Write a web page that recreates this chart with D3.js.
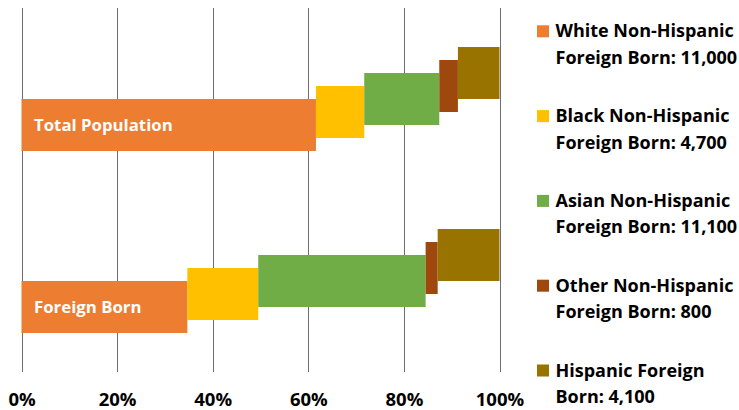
<!DOCTYPE html>
<html><head><meta charset="utf-8">
<script src="https://cdn.jsdelivr.net/npm/d3@7"></script>
<style>
body{margin:0;background:#fff}
svg{display:block}
text{font-family:"Open Sans",Lato,sans-serif;font-weight:bold}
</style></head>
<body><svg id="chart" width="739" height="410"></svg>
<script>
// ---- data ----
const categories = ["Total Population", "Foreign Born"];
const seriesLine1 = ["White Non-Hispanic", "Black Non-Hispanic", "Asian Non-Hispanic", "Other Non-Hispanic", "Hispanic Foreign"];
const seriesLine2 = ["Foreign Born: 11,000", "Foreign Born: 4,700", "Foreign Born: 11,100", "Foreign Born: 800", "Born: 4,100"];
const seriesColors = ["#ED7D31", "#FFC000", "#70AD47", "#9E480E", "#997300"];
const totalPopulationShare = [61.6, 10.1, 15.7, 3.9, 8.7]; // percent
const foreignBornCounts = [11000, 4700, 11100, 800, 4100];
const tickValues = [0, 20, 40, 60, 80, 100];

// ---- layout ----
const svg = d3.select("#chart");
const plot = {left: 21.5, right: 499.5, top: 8, bottom: 372};
const barH = 52, seriesStep = 13;

const fbTotal = d3.sum(foreignBornCounts);
const shares = [totalPopulationShare, foreignBornCounts.map(v => v / fbTotal * 100)];

const x = d3.scaleLinear().domain([0, 100]).range([plot.left, plot.right]);
const y = d3.scaleBand().domain(categories).range([plot.top, plot.bottom]).padding(0);
const off = d3.scaleLinear().domain([0, seriesLine1.length - 1]).range([2 * seriesStep, -2 * seriesStep]);

// gridlines
svg.append("g").selectAll("line").data(tickValues).join("line")
  .attr("x1", d => Math.round(x(d)) + 0.5).attr("x2", d => Math.round(x(d)) + 0.5)
  .attr("y1", plot.top).attr("y2", plot.bottom)
  .attr("stroke", "#6e6e6e").attr("stroke-width", 1);

// bars
categories.forEach((cat, ci) => {
  let acc = 0;
  const segs = shares[ci].map((v, i) => { const s = {i, x0: acc, x1: acc + v}; acc += v; return s; });
  const cy = y(cat) + y.bandwidth() / 2;
  svg.append("g").selectAll("rect").data(segs).join("rect")
    .attr("x", d => x(d.x0)).attr("width", d => x(d.x1) - x(d.x0))
    .attr("y", d => cy - barH / 2 + off(d.i)).attr("height", barH)
    .attr("fill", d => seriesColors[d.i]);
  svg.append("text").attr("x", plot.left + 12.5).attr("y", cy + off(0) + 6)
    .attr("fill", "#fff").attr("font-size", 16.8).text(cat);
});

// x axis labels
const axis = d3.axisBottom(x).tickValues(tickValues).tickFormat(d => d + "%").tickSize(0).tickPadding(0);
const ax = svg.append("g").attr("transform", `translate(0,${plot.bottom})`).call(axis);
ax.select(".domain").remove();
ax.selectAll("text").attr("dy", null).attr("y", 34)
  .attr("font-size", 18.5).attr("fill", "#000")
  .style("font-family", "'Open Sans',Lato,sans-serif").style("font-weight", "bold");

// legend
const lg = svg.append("g").selectAll("g").data(seriesLine1).join("g")
  .attr("transform", (d, i) => `translate(537,${37.3 + i * 84.8})`);
lg.append("rect").attr("x", 0).attr("y", -12).attr("width", 12).attr("height", 12)
  .attr("fill", (d, i) => seriesColors[i]);
lg.append("text").attr("x", 18.5).attr("y", 0).attr("font-size", 18).attr("fill", "#000").text(d => d);
lg.append("text").attr("x", 18.5).attr("y", 26.5).attr("font-size", 18).attr("fill", "#000").text((d, i) => seriesLine2[i]);
</script></body></html>
